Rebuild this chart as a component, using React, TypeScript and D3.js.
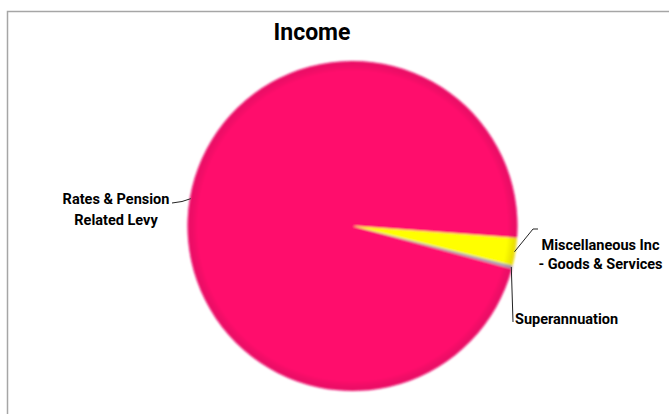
import React from "react";
import * as d3 from "d3";

const categories = [
  "Rates & Pension Related Levy",
  "Miscellaneous Inc - Goods & Services",
  "Superannuation",
];
const values = [97.0, 2.7, 0.3];
const labelLines = [
  ["Rates & Pension", "Related Levy"],
  ["Miscellaneous Inc", "- Goods & Services"],
  ["Superannuation"],
];
const colors = ["#FF0A6C", "#FFFF00", "#A79CB8"];
const title = "Income";

const W = 669;
const H = 414;
const cx = 352.5;
const cy = 226;
const R = 165;
const startDeg = 105;

// label layout (anchor points for leader lines and text)
const labelLayout = [
  { bend: [182, 201.5], end: [172, 203], tx: 116, ty: 204, anchor: "middle", lh: 21 },
  { bend: [533, 229], end: [538, 229], tx: 600.5, ty: 250, anchor: "middle", lh: 19 },
  { bend: [513, 322], end: [513, 322], tx: 515, ty: 323.5, anchor: "start", lh: 19 },
];

export default function App() {
  const pie = d3
    .pie<number>()
    .sort(null)
    .startAngle((startDeg * Math.PI) / 180)
    .endAngle((startDeg * Math.PI) / 180 + 2 * Math.PI);
  const arcs = pie(values);
  const arc = d3.arc<d3.PieArcDatum<number>>().innerRadius(0).outerRadius(R);
  const rimArc = d3.arc<d3.PieArcDatum<number>>().innerRadius(R - 1).outerRadius(R - 1);

  return (
    <svg
      width={W}
      height={H}
      style={{ position: "absolute", left: 0, top: 0, background: "#fff" }}
      fontFamily="Roboto, 'Noto Sans', sans-serif"
    >
      <defs>
        <filter id="soft" x="-10%" y="-10%" width="120%" height="120%">
          <feGaussianBlur stdDeviation="0.9" />
        </filter>
        <radialGradient id="rim" cx="0.5" cy="0.5" r="0.5">
          <stop offset="0.94" stopColor="#000" stopOpacity="0" />
          <stop offset="1" stopColor="#7a0050" stopOpacity="0.16" />
        </radialGradient>
      </defs>
      <rect x={7.5} y={11.5} width={W + 20} height={H + 20} fill="#fff" stroke="#a6a6a6" strokeWidth={1.5} />
      <text x={312} y={40} textAnchor="middle" fontWeight="bold" fontSize={23} fill="#000">
        {title}
      </text>
      <g transform={`translate(${cx},${cy})`} filter="url(#soft)">
        {arcs.map((a, i) => (
          <path key={categories[i]} d={arc(a) || ""} fill={colors[i]} />
        ))}
        <circle r={R} fill="url(#rim)" />
      </g>
      {arcs.map((a, i) => {
        const [px, py] = rimArc.centroid(a);
        const L = labelLayout[i];
        return (
          <g key={"l" + i}>
            <polyline
              points={`${cx + px},${cy + py} ${L.bend[0]},${L.bend[1]} ${L.end[0]},${L.end[1]}`}
              fill="none"
              stroke="#222"
              strokeWidth={1}
            />
            <text
              x={L.tx}
              y={L.ty}
              textAnchor={L.anchor as any}
              fontWeight="bold"
              fontSize={14.5}
              fill="#000"
            >
              {labelLines[i].map((ln, j) => (
                <tspan key={j} x={L.tx} y={L.ty + j * L.lh}>
                  {ln}
                </tspan>
              ))}
            </text>
          </g>
        );
      })}
    </svg>
  );
}
